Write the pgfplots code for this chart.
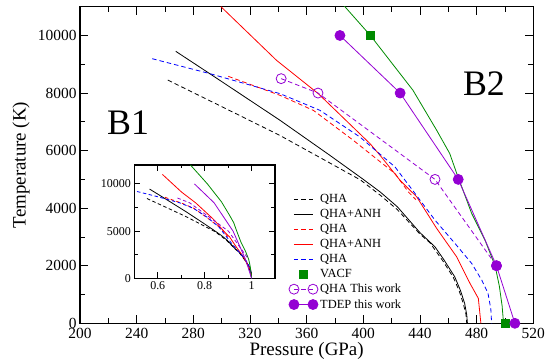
\documentclass[border=0pt]{standalone}
\usepackage{fontspec}
\setmainfont{Liberation Serif}
\usepackage{pgfplots}
\pgfplotsset{compat=1.18}
\usepackage{pgfplotstable}
\definecolor{vio}{RGB}{148,0,211}
\definecolor{grn}{RGB}{0,139,0}
\pgfplotsset{
  oneleg/.style={legend image code/.code={\draw[mark repeat=2,mark phase=2,##1] plot coordinates {(0bp,0bp) (9.5bp,0bp) (19bp,0bp)};}},
  twoleg/.style={legend image code/.code={\draw[##1] plot coordinates {(0bp,0bp) (19bp,0bp)};}},
}

\pgfplotstableread{
P T
262 8450
300 7530
341 6530
376 5580
398 4980
412 4450
424 3950
440 3100
447 2800
456 2180
463.5 1600
467.5 1150
470.5 700
472.5 300
473 0
}\bqha
\pgfplotstableread{
P T
267.6 9450
300 8400
341 7060
376 5850
400 5000
412 4560
424 4050
440 3150
450.6 2657
457 2200
464.5 1620
468.5 1150
471.5 700
473 300
473.5 0
}\banh
\pgfplotstableread{
P T
304.7 8580
341.2 7920
364.7 7399
392.9 6359
416.5 5432
422.4 5203
431.8 4565
437 4300
}\rqha
\pgfplotstableread{
P T
299.5 11000
338.8 9134
368.2 7979
404.7 6244
411.8 5838
425.9 4971
437.7 4392
451.8 3296
465.9 2310
475.3 1388
481.2 867
483 0
}\ranh
\pgfplotstableread{
P T
251 9193
291.8 8673
341.2 7979
369.4 7399
397.6 6473
414.1 5779
422.4 5432
436.5 4510
450.6 3584
464.7 2775
476.5 2081
483.6 1502
488 1050
490 500
490.6 0
}\bluq
\pgfplotstableread{
P T
369 12000
387 11000
405 10000
420 9050
435 8100
451.8 6706
461 5900
466 5200
476.5 3816
485.9 2890
493 2000
496 1300
498 600
499 0
}\gline
\pgfplotstableread{
P T
405 10000
500 0
}\vacf
\pgfplotstableread{
P T
342 8500
368 8000
450.6 5000
494 2000
}\qhatw
\pgfplotstableread{
P T
383.5 10000
426 8000
467 5000
494 2000
507 0
}\tdep

\begin{document}
\begin{tikzpicture}
\path[use as bounding box] (0bp,0bp) rectangle (549bp,362bp);
\begin{axis}[
  at={(80bp,38.7bp)}, anchor=south west, scale only axis,
  width=453.3bp, height=316.6bp,
  xmin=200, xmax=520, ymin=0, ymax=11000,
  xtick={200,240,...,520}, ytick={0,2000,...,10000},
  minor x tick num=1, minor y tick num=1,
  tick align=inside, major tick length=8bp, minor tick length=5bp,
  every tick/.style={black, line width=0.8bp},
  axis line style={line width=1.5bp},
  scaled ticks=false,
  /pgf/number format/assume math mode=true,
  /pgf/number format/1000 sep={},
  tick label style={font=\fontsize{15.5}{16}\selectfont},
  xticklabel style={yshift=-1bp},
  xlabel={Pressure (GPa)}, ylabel={Temperature (K)},
  label style={font=\fontsize{19}{20}\selectfont},
  xlabel style={at={(rel axis cs:0.5,0)}, anchor=center, yshift=-27.5bp},
  ylabel style={at={([xshift=-59bp]rel axis cs:0,0.5)}, anchor=center},
  legend style={at={(axis description cs:0.454,0.416)}, anchor=north west,
    draw=none, fill=none, font=\fontsize{12.5}{13}\selectfont,
    row sep=3.8bp, column sep=1.5bp, nodes={inner sep=0.7bp}},
  legend cell align=left,
  oneleg,
  mydash/.style={dash pattern=on 4.5bp off 3bp},
]
\addplot[black, mydash, line width=0.8bp] table {\bqha};
\addlegendentry{QHA}
\addplot[black, line width=0.8bp] table {\banh};
\addlegendentry{QHA+ANH}
\addplot[red, mydash, line width=0.8bp] table {\rqha};
\addlegendentry{QHA}
\addplot[red, line width=0.8bp] table {\ranh};
\addlegendentry{QHA+ANH}
\addplot[blue, mydash, line width=0.8bp] table {\bluq};
\addlegendentry{QHA}
\addplot[grn, line width=0.8bp, forget plot] table {\gline};
\addplot[only marks, mark=square*, mark size=4bp, grn] table {\vacf};
\addlegendentry{VACF}
\addplot[vio, mydash, line width=0.8bp, mark=o, mark size=5bp, mark options={solid}, twoleg] table {\qhatw};
\addlegendentry{QHA This work}
\addplot[vio, line width=0.8bp, mark=*, mark size=5bp, twoleg] table {\tdep};
\addlegendentry{TDEP this work}
\node[font=\fontsize{36}{36}\selectfont] at (axis cs:233.9,6983) {B1};
\node[font=\fontsize{36}{36}\selectfont] at (axis cs:485.2,8336) {B2};
\end{axis}
\begin{axis}[
  at={(134.3bp,83.7bp)}, anchor=south west, scale only axis,
  width=140.7bp, height=113.3bp,
  xmin=0.5, xmax=1.1, ymin=0, ymax=12000,
  xtick={0.6,0.8,1}, minor xtick={0.5,0.7,0.9,1.1},
  ytick={0,5000,10000}, minor ytick={2500,7500},
  tick align=inside, major tick length=6bp, minor tick length=3.5bp,
  every tick/.style={black, line width=0.8bp},
  axis line style={line width=1.3bp},
  axis background/.style={fill=white},
  scaled ticks=false,
  /pgf/number format/assume math mode=true,
  /pgf/number format/1000 sep={},
  tick label style={font=\fontsize{12}{13}\selectfont},
  mydash/.style={dash pattern=on 3.5bp off 2.5bp},
]
\addplot[black, mydash, line width=0.8bp] table[x expr=\thisrow{P}/473, y=T] {\bqha};
\addplot[black, line width=0.8bp] table[x expr=\thisrow{P}/473.5, y=T] {\banh};
\addplot[red, mydash, line width=0.8bp] table[x expr=\thisrow{P}/483, y=T] {\rqha};
\addplot[red, line width=0.8bp] table[x expr=\thisrow{P}/483, y=T] {\ranh};
\addplot[blue, mydash, line width=0.8bp] table[x expr=\thisrow{P}/490.6, y=T] {\bluq};
\addplot[grn, line width=0.8bp] table[x expr=\thisrow{P}/499, y=T] {\gline};
\addplot[vio, mydash, line width=0.8bp] table[x expr=\thisrow{P}/500, y=T] {\qhatw};
\addplot[vio, line width=0.8bp] table[x expr=\thisrow{P}/507, y=T] {\tdep};
\end{axis}
\end{tikzpicture}
\end{document}
